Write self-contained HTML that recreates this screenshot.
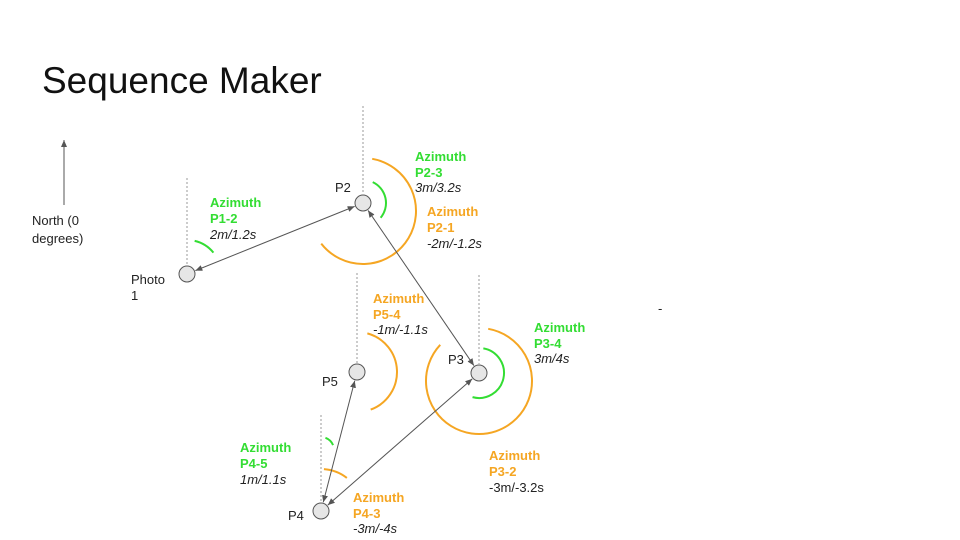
<!DOCTYPE html>
<html><head><meta charset="utf-8"><style>
html,body{margin:0;padding:0;background:#fff;}
svg{display:block;font-family:"Liberation Sans",Arial,sans-serif;}
.g{fill:#33dd33;font-weight:bold;font-size:13px;}
.o{fill:#f5a623;font-weight:bold;font-size:13px;}
.i{fill:#222;font-style:italic;font-size:13px;}
.n{fill:#222;font-size:13px;}
</style></head><body>
<svg id="d" width="960" height="540" viewBox="0 0 960 540">
<defs><marker id="ah" markerWidth="8" markerHeight="8" refX="7" refY="4" orient="auto-start-reverse"><path d="M0,1 L7,4 L0,7 z" fill="#555"/></marker></defs>
<text x="42" y="93" font-size="37" fill="#111">Sequence Maker</text>
<line x1="64" y1="205" x2="64" y2="140" stroke="#555" stroke-width="1" marker-end="url(#ah)"/>
<text class="n" x="32" y="225">North (0</text>
<text class="n" x="32" y="243">degrees)</text>
<text class="n" x="658" y="313">-</text>
<g id="marks"></g>
<text class="n" x="131" y="284">Photo</text>
<text class="n" x="131" y="300">1</text>
<text class="n" x="335" y="192">P2</text>
<text class="n" x="322" y="386">P5</text>
<text class="n" x="448" y="364">P3</text>
<text class="n" x="288" y="520">P4</text>
<g><text class="g" x="210" y="207">Azimuth</text><text class="g" x="210" y="223">P1-2</text><text class="i" x="210" y="239">2m/1.2s</text></g>
<g><text class="g" x="415" y="161">Azimuth</text><text class="g" x="415" y="177">P2-3</text><text class="i" x="415" y="192">3m/3.2s</text></g>
<g><text class="o" x="427" y="216">Azimuth</text><text class="o" x="427" y="232">P2-1</text><text class="i" x="427" y="248">-2m/-1.2s</text></g>
<g><text class="o" x="373" y="303">Azimuth</text><text class="o" x="373" y="319">P5-4</text><text class="i" x="373" y="334">-1m/-1.1s</text></g>
<g><text class="g" x="534" y="332">Azimuth</text><text class="g" x="534" y="348">P3-4</text><text class="i" x="534" y="363">3m/4s</text></g>
<g><text class="o" x="489" y="460">Azimuth</text><text class="o" x="489" y="476">P3-2</text><text class="n" x="489" y="492">-3m/-3.2s</text></g>
<g><text class="g" x="240" y="452">Azimuth</text><text class="g" x="240" y="468">P4-5</text><text class="i" x="240" y="484">1m/1.1s</text></g>
<g><text class="o" x="353" y="502">Azimuth</text><text class="o" x="353" y="518">P4-3</text><text class="i" x="353" y="533">-3m/-4s</text></g>
</svg>
<script>
const nodeNames=["photo1","p2","p3","p5","p4"];
const nodeX=[187,363,479,357,321];
const nodeY=[274,203,373,372,511];
const dotTop=[178,106,275,273,415];
const linkFrom=[1,1,4,4];
const linkTo=[0,2,3,2];
const arcNode=[0,1,1,2,2,3,4,4];
const arcColor=["#33dd33","#f5a623","#33dd33","#f5a623","#33dd33","#f5a623","#33dd33","#f5a623"];
const arcR=[34,53,23,53,25,40,13,42];
const arcStart=[13,10,25,10,10,15,20,4];
const arcEnd=[51,232,130,313,195,160,68,38];
const arcDy=[0,8,0,8,0,0,-61,0];
const NS="http://www.w3.org/2000/svg";
const g=document.getElementById("marks");
function pt(cx,cy,r,a){const t=a*Math.PI/180;return [cx+r*Math.sin(t),cy-r*Math.cos(t)];}
nodeNames.forEach((n,i)=>{
 const l=document.createElementNS(NS,"line");
 l.setAttribute("x1",nodeX[i]);l.setAttribute("x2",nodeX[i]);l.setAttribute("y1",dotTop[i]);l.setAttribute("y2",nodeY[i]-9);
 l.setAttribute("stroke","#999");l.setAttribute("stroke-dasharray","2,2");
 
 
 g.appendChild(l);
});
arcNode.forEach((ni,k)=>{
 const cx=nodeX[ni],cy=nodeY[ni]+arcDy[k],r=arcR[k];
 const a=pt(cx,cy,r,arcStart[k]),b=pt(cx,cy,r,arcEnd[k]);
 const large=(arcEnd[k]-arcStart[k])>180?1:0;
 const p=document.createElementNS(NS,"path");
 p.setAttribute("d",`M${a[0]},${a[1]} A${r},${r} 0 ${large} 1 ${b[0]},${b[1]}`);
 p.setAttribute("fill","none");p.setAttribute("stroke",arcColor[k]);p.setAttribute("stroke-width","2");
 
 
 g.appendChild(p);
});
linkFrom.forEach((f,k)=>{
 const t=linkTo[k];const dx=nodeX[t]-nodeX[f],dy=nodeY[t]-nodeY[f];const L=Math.hypot(dx,dy);
 const ux=dx/L,uy=dy/L,o=9;
 const l=document.createElementNS(NS,"line");
 l.setAttribute("x1",nodeX[f]+ux*o);l.setAttribute("y1",nodeY[f]+uy*o);
 l.setAttribute("x2",nodeX[t]-ux*o);l.setAttribute("y2",nodeY[t]-uy*o);
 l.setAttribute("stroke","#555");l.setAttribute("stroke-width","1");
 l.setAttribute("marker-start","url(#ah)");l.setAttribute("marker-end","url(#ah)");
 
 
 g.appendChild(l);
});
nodeNames.forEach((n,i)=>{
 const c=document.createElementNS(NS,"circle");
 c.setAttribute("cx",nodeX[i]);c.setAttribute("cy",nodeY[i]);c.setAttribute("r","8");
 c.setAttribute("fill","#e6e6e6");c.setAttribute("stroke","#555");
 
 
 g.appendChild(c);
});
</script>
</body></html>
